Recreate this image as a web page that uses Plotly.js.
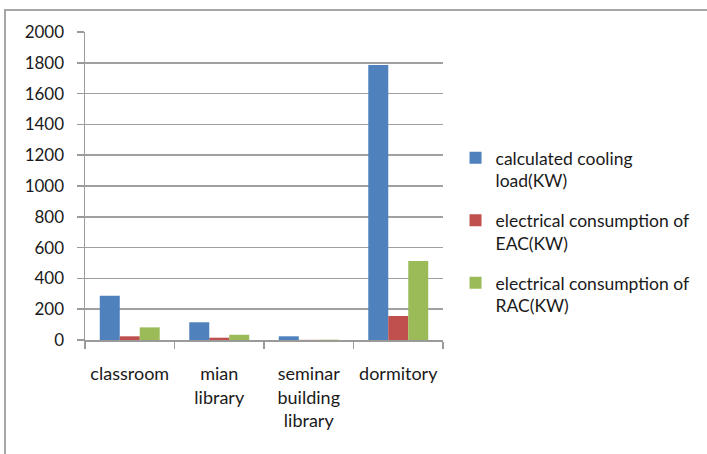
<!DOCTYPE html>
<html>
<head>
<meta charset="utf-8">
<script src="https://cdn.plot.ly/plotly-3.0.1.min.js"></script>
<style>
  html, body { margin: 0; padding: 0; background: #fff; }
  #frame { position: absolute; left: 4px; top: 9px; width: 710px; height: 450px;
           border-top: 2px solid #a6a6a6; border-left: 2px solid #a6a6a6; }
  #chart { position: absolute; left: 0; top: 0; width: 707px; height: 454px; }
</style>
</head>
<body>
<div id="frame"></div>
<div id="chart"></div>
<script>
const categories = ["classroom", "mian<br>library", "seminar<br>building<br>library", "dormitory"];
const coolingLoad = [287, 115, 24, 1785];
const eacConsumption = [24, 15, 1, 156];
const racConsumption = [82, 34, 2, 513];
const seriesNames = ["calculated cooling<br>load(KW)", "electrical consumption of<br>EAC(KW)", "electrical consumption of<br>RAC(KW)"];
const yTicks = [0, 200, 400, 600, 800, 1000, 1200, 1400, 1600, 1800, 2000];

const colors = ["#4F81BD", "#C0504D", "#9BBB59"];
const values = [coolingLoad, eacConsumption, racConsumption];
const fontFam = "Lato, 'Open Sans', sans-serif";

const traces = values.map((v, i) => ({
  type: "bar",
  x: categories,
  y: v,
  name: seriesNames[i],
  legendgroup: "g" + i,
  marker: { color: colors[i] },
  hoverinfo: "none"
}));

const layout = {
  width: 707, height: 454,
  margin: { l: 85, r: 260, t: 32, b: 114 },
  paper_bgcolor: "rgba(0,0,0,0)",
  plot_bgcolor: "rgba(0,0,0,0)",
  barmode: "group",
  bargap: 0.33,
  bargroupgap: 0,
  font: { family: fontFam, size: 18, color: "#1a1a1a" },
  xaxis: {
    type: "category",
    showgrid: false,
    showline: true, linecolor: "#9a9a9a", linewidth: 1.5,
    ticks: "outside", tickson: "boundaries", ticklen: 7, tickcolor: "#9a9a9a", tickwidth: 1.5,
    tickfont: { family: fontFam, size: 18, color: "#1a1a1a" },
    tickangle: 0,
    ticklabelstandoff: 17,
    range: [-0.5, 3.5],
    fixedrange: true
  },
  yaxis: {
    range: [0, 2000],
    tickvals: yTicks,
    ticktext: yTicks.map(String),
    showgrid: true, gridcolor: "#a0a0a0", gridwidth: 1.5,
    showline: true, linecolor: "#9a9a9a", linewidth: 1.5,
    ticks: "outside", ticklen: 7, tickcolor: "#9a9a9a", tickwidth: 1.5,
    tickfont: { family: fontFam, size: 17, color: "#1a1a1a" },
    ticklabelstandoff: 9,
    zeroline: false,
    fixedrange: true
  },
  showlegend: true,
  legend: {
    x: 1.035, xanchor: "left",
    y: 0.65, yanchor: "top",
    traceorder: "grouped",
    tracegroupgap: 14,
    valign: "top",
    font: { family: fontFam, size: 17.5, color: "#1a1a1a" },
    itemwidth: 30,
    bgcolor: "rgba(0,0,0,0)"
  }
};

Plotly.newPlot("chart", traces, layout, { displayModeBar: false, staticPlot: true });
</script>
</body>
</html>
